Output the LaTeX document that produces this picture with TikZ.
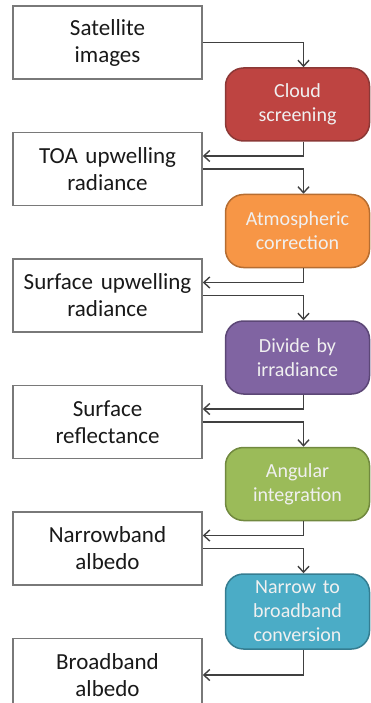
\documentclass[tikz,border=0pt]{standalone}
\usepackage{fontspec}
\setmainfont{Carlito}
\usepackage{xcolor}
\usetikzlibrary{arrows.meta,positioning}

\definecolor{redfill}{HTML}{BE4441}
\definecolor{redline}{HTML}{8C3836}
\definecolor{orangefill}{HTML}{F79646}
\definecolor{orangeline}{HTML}{B66D31}
\definecolor{purplefill}{HTML}{8064A2}
\definecolor{purpleline}{HTML}{5C4776}
\definecolor{greenfill}{HTML}{9BBB59}
\definecolor{greenline}{HTML}{71893F}
\definecolor{aquafill}{HTML}{4BACC6}
\definecolor{aqualine}{HTML}{357D91}

\begin{document}
\begin{tikzpicture}[
  node distance=52pt and 22pt,
  >={Straight Barb[length=6pt,width=11pt]},
  data/.style={draw=gray!95!black, line width=1.5pt, fill=white, align=center, text width=187pt,
    minimum width=189pt, minimum height=73pt, inner sep=1pt,
    font=\fontsize{23pt}{27pt}\selectfont, text=black!90},
  proc/.style 2 args={draw=#2, fill=#1, line width=1.5pt, rounded corners=18pt, align=center,
    text width=142pt, minimum width=144pt, minimum height=73pt, inner sep=1pt,
    font=\fontsize{20pt}{24pt}\selectfont, text=white!94!black},
  link/.style={->, draw=black!75, line width=1.4pt}
]
\useasboundingbox (0,0) rectangle (371pt,-703pt);

\node[data] (sat) at (107.5pt,-42.5pt) {Satellite\\images};
\node[data, below=of sat] (toa) {TOA upwelling\\radiance};
\node[data, below=of toa] (surfrad) {Surface upwelling\\radiance};
\node[data, below=of surfrad] (refl) {Surface\\reflectance};
\node[data, below=of refl] (nbalb) {Narrowband\\albedo};
\node[data, below=of nbalb] (bbalb) {Broadband\\albedo};

\node[proc={redfill}{redline}, right=of sat, yshift=-62pt] (cloud) {Cloud\\screening};
\node[proc={orangefill}{orangeline}, below=of cloud] (atmos) {Atmospheric\\correction};
\node[proc={purplefill}{purpleline}, below=of atmos] (divide) {Divide by\\irradiance};
\node[proc={greenfill}{greenline}, below=of divide] (angular) {Angular\\integration};
\node[proc={aquafill}{aqualine}, below=of angular, minimum height=75pt] (conv) {Narrow to\\broadband\\conversion};

% data -> step
\draw[link] (sat.east) -| ([xshift=6pt]cloud.north);
\draw[link] (toa.east) -| ([xshift=6pt]atmos.north);
\draw[link] (surfrad.east) -| ([xshift=6pt]divide.north);
\draw[link] (refl.east) -| ([xshift=6pt]angular.north);
\draw[link] (nbalb.east) -| ([xshift=6pt]conv.north);

% step -> data
\draw[link] ([xshift=6pt]cloud.south) |- ([yshift=13pt]toa.east);
\draw[link] ([xshift=6pt]atmos.south) |- ([yshift=13pt]surfrad.east);
\draw[link] ([xshift=6pt]divide.south) |- ([yshift=13pt]refl.east);
\draw[link] ([xshift=6pt]angular.south) |- ([yshift=13pt]nbalb.east);
\draw[link] ([xshift=6pt]conv.south) |- (bbalb.east);
\end{tikzpicture}
\end{document}
